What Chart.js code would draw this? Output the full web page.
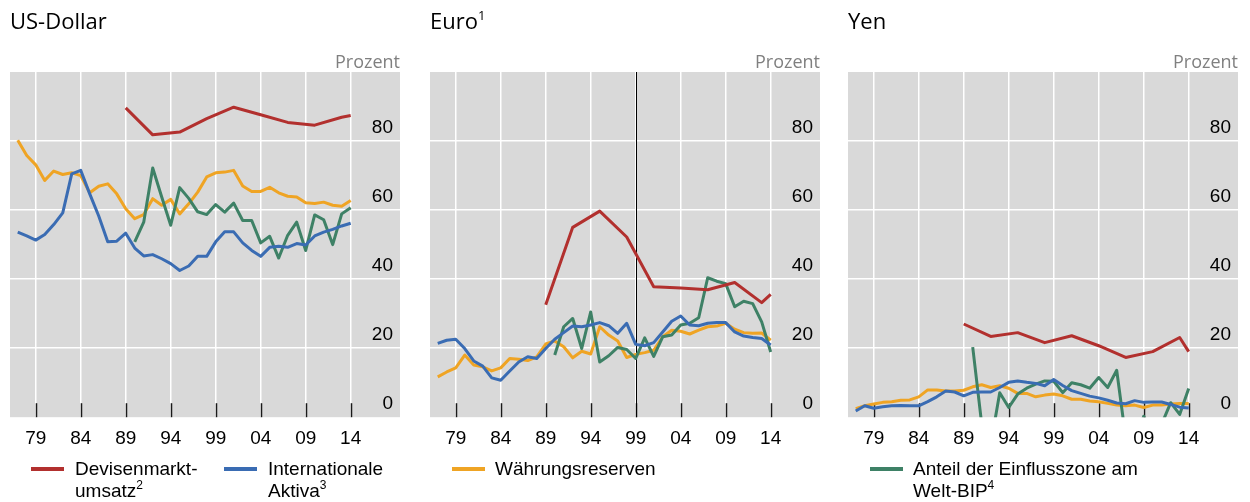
<!DOCTYPE html>
<html>
<head>
<meta charset="utf-8">
<script src="https://cdn.jsdelivr.net/npm/chart.js@4.4.1/dist/chart.umd.min.js"></script>
<style>
  body { margin: 0; width: 1250px; height: 502px; background: #fff; overflow: hidden; position: relative;
         font-family: "Liberation Sans", Arial, sans-serif; }
  canvas { position: absolute; top: 0; }
  .title { position: absolute; top: 5px; font-family: "Open Sans", sans-serif; font-size: 22px; line-height: 30px; color: #000; }
  .title sup { font-size: 13px; vertical-align: 9px; line-height: 0; }
  .unit { position: absolute; top: 49px; width: 120px; text-align: right; font-family: "Open Sans", sans-serif;
          font-size: 18px; line-height: 24px; color: #808080; }
  .leg { position: absolute; top: 458px; font-size: 19px; line-height: 22px; color: #000; }
  .leg sup { font-size: 12px; vertical-align: 8px; line-height: 0; }
  .sw { position: absolute; top: 467px; width: 33px; height: 4px; }
</style>
</head>
<body>
<canvas id="usd" width="410" height="460" style="left:0px"></canvas>
<canvas id="eur" width="410" height="460" style="left:420px"></canvas>
<canvas id="jpy" width="410" height="460" style="left:838px"></canvas>

<div class="title" style="left:10px">US-Dollar</div>
<div class="title" style="left:430px">Euro<sup>1</sup></div>
<div class="title" style="left:848px">Yen</div>
<div class="unit" style="left:280px">Prozent</div>
<div class="unit" style="left:700px">Prozent</div>
<div class="unit" style="left:1118px">Prozent</div>

<div class="sw" style="left:31px;background:#b2302e"></div>
<div class="leg" style="left:75px">Devisenmarkt-<br>umsatz<sup>2</sup></div>
<div class="sw" style="left:224px;background:#3a6cb3"></div>
<div class="leg" style="left:268px">Internationale<br>Aktiva<sup>3</sup></div>
<div class="sw" style="left:452px;background:#efa424"></div>
<div class="leg" style="left:495px">Währungsreserven</div>
<div class="sw" style="left:870px;background:#3e8166"></div>
<div class="leg" style="left:913px">Anteil der Einflusszone am<br>Welt-BIP<sup>4</sup></div>

<script>
const years = [1977, 1978, 1979, 1980, 1981, 1982, 1983, 1984, 1985, 1986, 1987, 1988, 1989,
               1990, 1991, 1992, 1993, 1994, 1995, 1996, 1997, 1998, 1999, 2000, 2001, 2002,
               2003, 2004, 2005, 2006, 2007, 2008, 2009, 2010, 2011, 2012, 2013, 2014];
const surveyYears = [1989, 1992, 1995, 1998, 2001, 2004, 2007, 2010, 2013, 2014];
const tickYears = [1979, 1984, 1989, 1994, 1999, 2004, 2009, 2014];
const yTicks = [0, 20, 40, 60, 80];

// US-Dollar
const usdTurnover = [89.6, 81.8, 82.6, 86.5, 89.8, 87.6, 85.4, 84.6, 86.9, 87.4];
const usdAssets = [53.6, 52.5, 51.3, 52.9, 55.8, 59.2, 70.5, 71.5, 64.7, 58.3, 50.8, 51.0, 53.3,
                   49.0, 46.7, 47.1, 45.9, 44.5, 42.5, 43.8, 46.6, 46.6, 50.8, 53.7, 53.7, 50.5,
                   48.3, 46.6, 49.2, 49.5, 49.2, 50.3, 49.9, 52.5, 53.6, 54.4, 55.4, 56.2];
const usdReserves = [80.2, 75.8, 73.1, 68.6, 71.3, 70.3, 70.8, 70.0, 65.0, 66.9, 67.6, 64.7, 60.4,
                     57.5, 58.7, 63.3, 61.4, 63.1, 58.9, 61.8, 65.2, 69.6, 70.8, 71.0, 71.5, 67.0,
                     65.4, 65.4, 66.6, 65.0, 64.0, 63.8, 62.1, 61.9, 62.3, 61.4, 61.1, 62.8];
const usdGdp = [null, null, null, null, null, null, null, null, null, null, null, null, null,
                50.8, 56.5, 72.2, 63.8, 55.6, 66.5, 63.4, 59.5, 58.7, 61.6, 59.4, 62.0, 57.0,
                57.0, 50.5, 52.4, 46.1, 52.7, 56.5, 48.3, 58.6, 57.2, 50.0, 58.9, 60.7];

// Euro
const eurTurnover = [32.6, 55.0, 59.7, 52.2, 37.8, 37.4, 36.9, 39.0, 33.2, 35.6];
const eurAssets = [21.4, 22.3, 22.6, 19.9, 16.3, 14.8, 11.4, 10.7, 13.4, 16.0, 17.5, 17.0, 19.9,
                   22.6, 24.5, 26.4, 26.2, 26.7, 27.4, 26.5, 24.3, 27.2, 21.1, 20.7, 21.6, 24.7,
                   27.8, 29.3, 26.7, 26.5, 27.2, 27.4, 27.4, 24.7, 23.5, 23.1, 22.8, 20.9];
const eurReserves = [11.7, 13.1, 14.3, 18.0, 15.1, 14.6, 13.4, 14.3, 17.0, 16.8, 16.4, 17.5, 21.2,
                     22.1, 20.4, 17.2, 19.1, 18.3, 26.2, 23.8, 22.1, 17.3, 18.2, 18.7, 19.4, 23.3,
                     25.2, 24.9, 24.1, 25.2, 26.2, 26.4, 27.2, 25.5, 24.5, 24.3, 24.4, 22.3];
const eurGdp = [null, null, null, null, null, null, null, null, null, null, null, null, null,
                18.0, 26.2, 28.6, 19.9, 30.5, 16.0, 17.8, 20.2, 19.6, 17.0, 23.0, 17.6, 23.3,
                23.8, 26.7, 27.2, 28.8, 40.4, 39.4, 38.7, 32.0, 33.6, 32.9, 27.6, 18.9];

// Yen
const jpyTurnover = [27.0, 23.4, 24.5, 21.6, 23.6, 20.7, 17.3, 19.0, 23.1, 19.0];
const jpyAssets = [1.8, 3.3, 2.6, 3.0, 3.3, 3.4, 3.3, 3.3, 4.5, 5.9, 7.6, 7.3, 6.2,
                   7.2, 7.3, 7.3, 8.6, 10.1, 10.5, 10.1, 9.8, 9.1, 10.9, 9.2, 7.7, 6.9,
                   6.1, 5.6, 4.9, 4.1, 3.9, 4.8, 4.3, 4.4, 4.4, 3.7, 2.9, 2.7];
const jpyReserves = [2.5, 3.3, 3.8, 4.3, 4.5, 4.9, 5.0, 5.9, 7.9, 7.9, 7.6, 7.6, 7.8,
                     8.8, 9.4, 8.6, 9.1, 8.4, 6.9, 6.9, 5.9, 6.4, 6.7, 6.2, 5.2, 5.2,
                     4.7, 4.5, 4.0, 3.5, 3.3, 3.5, 2.8, 3.5, 3.5, 3.8, 4.0, 4.0];
const jpyGdp = [null, null, null, null, null, null, null, null, null, null, null, null, null,
                20.3, -2.0, -8.0, 7.1, 2.8, 6.7, 8.4, 9.6, 10.5, 10.4, 7.1, 10.0, 9.4,
                8.4, 11.5, 8.6, 13.6, -6.0, -8.0, 0.3, -5.0, -2.0, 4.2, 0.8, 8.3];

const colTurnover = "#b2302e";
const colAssets = "#3a6cb3";
const colReserves = "#efa424";
const colGdp = "#3e8166";

function points(xs, ys) {
    return xs.map((x, i) => ({ x: x, y: ys[i] }));
}

// grey plot area, tick marks inside, y labels inside on the right
const panelDecor = {
    id: "panelDecor",
    beforeDraw(chart) {
        const a = chart.chartArea;
        const ctx = chart.ctx;
        ctx.save();
        ctx.fillStyle = "#d9d9d9";
        ctx.fillRect(a.left, a.top, a.right - a.left, a.bottom - a.top);
        ctx.restore();
    },
    beforeDatasetsDraw(chart, args, opts) {
        const a = chart.chartArea;
        const ctx = chart.ctx;
        const xs = chart.scales.x;
        const ys = chart.scales.y;
        ctx.save();
        ctx.strokeStyle = "#1a1a1a";
        ctx.lineWidth = 1.5;
        xs.ticks.forEach(t => {
            const px = Math.round(xs.getPixelForValue(t.value)) + 0.5;
            ctx.beginPath();
            ctx.moveTo(px, a.bottom - 14);
            ctx.lineTo(px, a.bottom);
            ctx.stroke();
        });
        if (opts.divider) {
            const px = Math.round(xs.getPixelForValue(opts.divider)) + 0.5;
            ctx.lineWidth = 1;
            ctx.strokeStyle = "#000";
            ctx.beginPath();
            ctx.moveTo(px, a.top);
            ctx.lineTo(px, a.bottom);
            ctx.stroke();
        }
        ctx.fillStyle = "#000";
        ctx.font = "19px 'Liberation Sans', Arial, sans-serif";
        ctx.textAlign = "right";
        ctx.textBaseline = "middle";
        ys.ticks.forEach(t => {
            ctx.fillText(String(t.value), a.right - 7, ys.getPixelForValue(t.value) - 13);
        });
        ctx.restore();
    }
};

function makePanel(id, turnover, assets, reserves, gdp, divider) {
    const ctx = document.getElementById(id).getContext("2d");
    new Chart(ctx, {
        type: "line",
        data: {
            datasets: [
                { label: "Devisenmarktumsatz", data: points(surveyYears, turnover), borderColor: colTurnover },
                { label: "Internationale Aktiva", data: points(years, assets), borderColor: colAssets },
                { label: "Anteil der Einflusszone am Welt-BIP", data: points(years, gdp), borderColor: colGdp },
                { label: "Währungsreserven", data: points(years, reserves), borderColor: colReserves },
            ],
        },
        options: {
            responsive: false,
            animation: false,
            layout: { padding: { left: 10, right: 10, top: 72, bottom: 0 } },
            elements: {
                point: { radius: 0, hoverRadius: 0 },
                line: { borderWidth: 3, tension: 0, fill: false, borderJoinStyle: "round" },
            },
            plugins: {
                legend: { display: false },
                tooltip: { enabled: false },
                panelDecor: { divider: divider },
            },
            scales: {
                x: {
                    type: "linear",
                    min: 1976.14,
                    max: 2019.48,
                    afterBuildTicks: s => { s.ticks = tickYears.map(v => ({ value: v })); },
                    grid: { color: "#ffffff", lineWidth: 1.5, drawTicks: false },
                    border: { display: false },
                    ticks: {
                        padding: 10,
                        color: "#000",
                        autoSkip: false,
                        maxRotation: 0,
                        font: { family: "'Liberation Sans', Arial, sans-serif", size: 19 },
                        callback: v => String(v % 100).padStart(2, "0"),
                    },
                },
                y: {
                    position: "right",
                    min: 0,
                    max: 100,
                    afterBuildTicks: s => { s.ticks = yTicks.map(v => ({ value: v })); },
                    grid: {
                        color: c => (c.tick && c.tick.value === 0 ? "rgba(0,0,0,0)" : "#ffffff"),
                        lineWidth: 1.5,
                        drawTicks: false,
                    },
                    border: { display: false },
                    ticks: { display: false },
                },
            },
        },
        plugins: [panelDecor],
    });
}

makePanel("usd", usdTurnover, usdAssets, usdReserves, usdGdp, null);
makePanel("eur", eurTurnover, eurAssets, eurReserves, eurGdp, 1999);
makePanel("jpy", jpyTurnover, jpyAssets, jpyReserves, jpyGdp, null);
</script>
</body>
</html>
